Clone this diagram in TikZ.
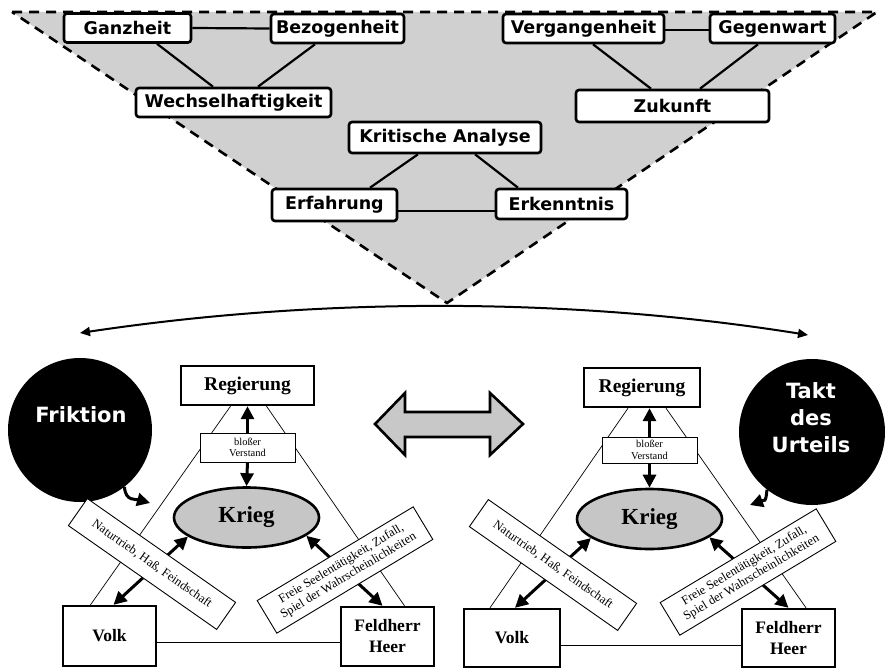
\documentclass[tikz,border=0pt]{standalone}
\usepackage{fontspec}
\setmainfont{Liberation Serif}
\newfontfamily\dejavu{DejaVu Sans}
\usetikzlibrary{arrows.meta,shapes.geometric,calc}
\definecolor{trigray}{HTML}{D0D0D0}
\definecolor{krieggray}{HTML}{C6C6C6}
\definecolor{arrowgray}{HTML}{C8C8C8}
\begin{document}
\begin{tikzpicture}[x=1pt,y=-1pt,
  topbox/.style={draw, line width=2.6pt, rounded corners=3pt, fill=white, inner sep=0pt, font=\dejavu\bfseries\fontsize{17.5}{20}\selectfont},
  topline/.style={line width=2.2pt},
  circ/.style={circle, fill=black, inner sep=0pt},
  circtext/.style={text=white, align=center, font=\dejavu\bfseries\fontsize{21}{27}\selectfont},
  mainbox/.style={draw, line width=2.4pt, fill=white, inner sep=0pt, font=\bfseries\fontsize{19.5}{21}\selectfont},
  cornerbox/.style={draw, line width=2.4pt, fill=white, inner sep=0pt, align=center, font=\bfseries\fontsize{17.5}{21}\selectfont},
  smallbox/.style={draw, line width=0.8pt, fill=white, inner sep=0pt, align=center, font=\fontsize{10.5}{11.5}\selectfont},
  labbox/.style={draw, line width=0.9pt, fill=white, inner sep=0pt, align=center, font=\fontsize{12.5}{14}\selectfont},
  kriegnode/.style={ellipse, draw, line width=2.6pt, fill=krieggray, inner sep=0pt, minimum width=145pt, minimum height=60pt, font=\bfseries\fontsize{23}{25}\selectfont},
  tline/.style={line width=0.7pt},
  dblarrow/.style={line width=3pt, <->, >={Triangle[length=13pt,width=13pt]}},
  onearrow/.style={line width=3pt, ->, >={Triangle[length=13pt,width=13pt]}}
]
\useasboundingbox (0,0) rectangle (886,669);
\fill[white] (0,0) rectangle (886,669);

% ---------- top triangle ----------
\draw[dash pattern=on 10pt off 7pt, line width=2.6pt, fill=trigray] (12,12) -- (877,12) -- (447,303) -- cycle;

\node[topbox, minimum width=127pt, minimum height=29pt] (ganz) at (127.5,28) {Ganzheit};
\node[topbox, minimum width=133pt, minimum height=29pt] (bez) at (337.5,28.5) {Bezogenheit};
\node[topbox, minimum width=195pt, minimum height=29pt] (wech) at (233.5,102.5) {Wechselhaftigkeit};
\node[topbox, minimum width=192pt, minimum height=31pt] (krit) at (445,137.5) {Kritische Analyse};
\node[topbox, minimum width=125pt, minimum height=32pt] (erf) at (334.5,205) {Erfahrung};
\node[topbox, minimum width=131pt, minimum height=30pt] (erk) at (561.5,204) {Erkenntnis};
\node[topbox, minimum width=161pt, minimum height=29pt] (verg) at (583.5,28.5) {Vergangenheit};
\node[topbox, minimum width=125pt, minimum height=29pt] (gegen) at (772.5,28.5) {Gegenwart};
\node[topbox, minimum width=193pt, minimum height=32pt] (zuk) at (672.5,106) {Zukunft};

\draw[topline] (ganz.east) -- (bez.west);
\draw[topline] ($(ganz.south)+(29.5,0)$) -- ($(wech.north)+(-20.5,0)$);
\draw[topline] ($(bez.south)+(-22.5,0)$) -- ($(wech.north)+(24.5,0)$);
\draw[topline] ($(krit.south)+(-27,0)$) -- ($(erf.north)+(35.5,0)$);
\draw[topline] ($(krit.south)+(30,0)$) -- ($(erk.north)+(-43.5,0)$);
\draw[topline] ($(erf.east)+(0,6)$) -- ($(erk.west)+(0,7)$);
\draw[topline] ($(verg.east)+(0,1.5)$) -- ($(gegen.west)+(0,1.5)$);
\draw[topline] ($(verg.south)+(9.5,0)$) -- ($(zuk.north)+(-21.5,0)$);
\draw[topline] ($(gegen.south)+(-14.5,0)$) -- ($(zuk.north)+(27.5,0)$);

% ---------- circles ----------
\node[circ, minimum size=144pt] (frik) at (80,430) {};
\node[circtext] (frikt) at ($(frik)+(1,-15)$) {Friktion};
\node[circ, minimum size=146pt] (takt) at (812,432) {};
\node[circtext] (taktt) at ($(takt)+(-1,-14)$) {Takt\\des\\Urteils};

\coordinate (cl) at (80,333);
\coordinate (cr) at (808,335);
\draw[line width=2pt, <->, >={Triangle[length=10pt,width=9pt]}] (cl) .. controls (320,297) and (570,297) .. (cr);

\coordinate (sl) at (150,503);
\draw[onearrow] (frik.-52) .. controls +(1,15) and +(-14,-4) .. (sl);
\coordinate (sr) at (750,505);
\draw[onearrow] (takt.232) .. controls +(-1,14) and +(14,-5) .. (sr);

% ---------- central double arrow ----------
\draw[line width=2.6pt, fill=arrowgray, line join=miter]
  (375,424) -- (405,393) -- (405,412) -- (490,412) -- (490,393) -- (523,424)
  -- (490,455) -- (490,437) -- (405,437) -- (405,455) -- cycle;

% ---------- left triangle ----------
\node[mainbox, minimum width=133pt, minimum height=39pt] (regL) at (247.5,385.5) {Regierung};
\node[kriegnode] (kriegL) at (246.5,517.5) {Krieg};
\node[cornerbox, minimum width=93pt, minimum height=60pt] (volkL) at (109.5,636) {Volk};
\node[cornerbox, minimum width=93pt, minimum height=59pt] (feldL) at (387.5,636.5) {Feldherr\\Heer};

\draw[tline] ($(regL.south)+(-17,0)$) -- ($(volkL.north)+(-19,0)$);
\draw[tline] ($(regL.south)+(19,0)$) -- ($(feldL.north)+(17,0)$);
\draw[tline] ($(volkL.east)+(0,6)$) -- ($(feldL.west)+(0,5.5)$);

\node[smallbox, minimum width=95pt, minimum height=29pt] (verL) at (247.5,447.5) {bloßer\\Verstand};
\draw[onearrow] (verL.north) -- (regL.south);
\draw[onearrow] (verL.south) -- (kriegL.north);
\draw[dblarrow] ($(volkL.north)+(4,0)$) -- (kriegL.198);
\draw[dblarrow] (kriegL.343) -- ($(feldL.north)+(-5,0)$);

\node[labbox, rotate=-35, minimum width=181pt, minimum height=33pt] (natL) at (152,564) {Naturtrieb, Haß, Feindschaft};
\node[labbox, rotate=31, minimum width=182pt, minimum height=38pt] (freiL) at (345,570) {Freie Seelentätigkeit, Zufall,\\Spiel der Wahrscheinlichkeiten};

% ---------- right triangle ----------
\node[mainbox, minimum width=116pt, minimum height=39pt] (regR) at (642,387.5) {Regierung};
\node[kriegnode] (kriegR) at (649.5,519) {Krieg};
\node[cornerbox, minimum width=96pt, minimum height=58pt] (volkR) at (512,638) {Volk};
\node[cornerbox, minimum width=93pt, minimum height=58pt] (feldR) at (788.5,638) {Feldherr\\Heer};

\draw[tline] ($(regR.south)+(-14,0)$) -- ($(volkR.north)+(-22,0)$);
\draw[tline] ($(regR.south)+(24,0)$) -- ($(feldR.north)+(17.5,0)$);
\draw[tline] ($(volkR.east)+(0,7)$) -- ($(feldR.west)+(0,7)$);

\node[smallbox, minimum width=95pt, minimum height=26pt] (verR) at (649.5,450) {bloßer\\Verstand};
\draw[onearrow] (verR.north) -- (verR.north |- regR.south);
\draw[onearrow] (verR.south) -- (kriegR.north);
\draw[dblarrow] ($(volkR.north)+(3,0)$) -- (kriegR.198);
\draw[dblarrow] (kriegR.343) -- (feldR.north);

\node[labbox, rotate=-35, minimum width=181pt, minimum height=33pt] (natR) at (553,565) {Naturtrieb, Haß, Feindschaft};
\node[labbox, rotate=31, minimum width=182pt, minimum height=38pt] (freiR) at (748,572) {Freie Seelentätigkeit, Zufall,\\Spiel der Wahrscheinlichkeiten};
\end{tikzpicture}
\end{document}
